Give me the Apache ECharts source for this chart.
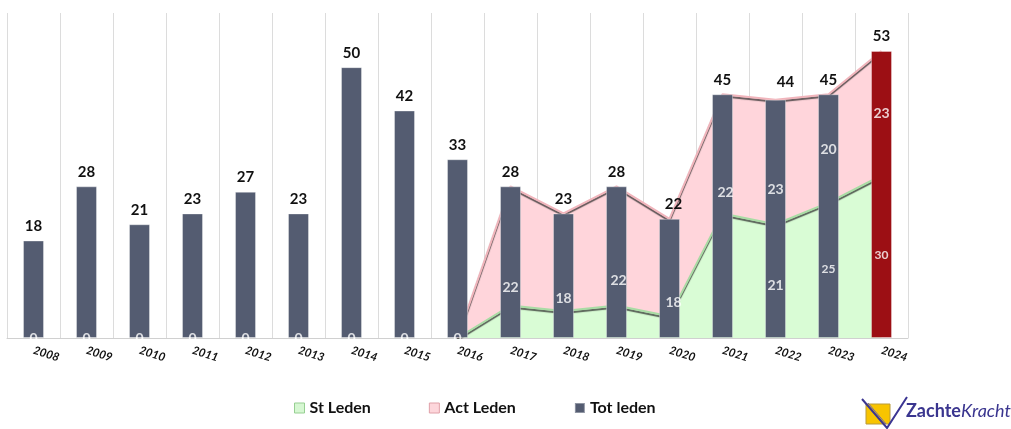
<!DOCTYPE html>
<html>
<head>
<meta charset="utf-8">
<script src="https://cdn.jsdelivr.net/npm/echarts@6/dist/echarts.min.js"></script>
<style>
  html, body { margin: 0; padding: 0; background: #fff; }
  #chart { width: 1011px; height: 429px; }
</style>
</head>
<body>
<div id="chart"></div>
<script>
(function () {
    'use strict';

    var YEARS = ['2008', '2009', '2010', '2011', '2012', '2013', '2014', '2015', '2016',
                 '2017', '2018', '2019', '2020', '2021', '2022', '2023', '2024'];
    var TOT_LEDEN = [18, 28, 21, 23, 27, 23, 50, 42, 33, 28, 23, 28, 22, 45, 44, 45, 53];
    var ST_LEDEN  = [0, 0, 0, 0, 0, 0, 0, 0, 0, 6, 5, 6, 4, 23, 21, 25, 30];
    var ACT_LEDEN = [0, 0, 0, 0, 0, 0, 0, 0, 0, 22, 18, 22, 18, 22, 23, 20, 23];
    var AREA_FROM = '2016';

    var FONT = 'Lato, "Open Sans", sans-serif';
    var BAR_COLOR = '#545c71';
    var LAST_COLOR = '#9c0f14';

    // Where Excel put the inner labels (pixel shift from the stacked point).
    var ACT_LABEL_SHIFT = {
        '2017': [0, 101], '2018': [0, 85], '2019': [2, 94], '2020': [4, 84],
        '2021': [3, 98], '2022': [0, 90], '2023': [0, 55], '2024': [0, 63]
    };
    var ST_LABEL_SHIFT = {
        '2022': [0, 61, 14], '2023': [0, 67, 12], '2024': [0, 80, 12]
    };

    var startIdx = YEARS.indexOf(AREA_FROM);
    var areaSt = ST_LEDEN.map(function (v, i) { return i < startIdx ? null : v; });
    var areaAct = ACT_LEDEN.map(function (v, i) { return i < startIdx ? null : v; });

    // label-only points
    var labelPts = [];
    YEARS.forEach(function (y, i) {
        if (i <= startIdx) {
            labelPts.push({ value: [i, 0], label: { formatter: String(ST_LEDEN[i]) } });
        }
        if (ST_LABEL_SHIFT[y]) {
            var s = ST_LABEL_SHIFT[y];
            labelPts.push({
                value: [i, ST_LEDEN[i]],
                label: { formatter: String(ST_LEDEN[i]), offset: [s[0], s[1]], fontSize: s[2] }
            });
        }
        if (ACT_LABEL_SHIFT[y]) {
            var a = ACT_LABEL_SHIFT[y];
            labelPts.push({
                value: [i, ST_LEDEN[i] + ACT_LEDEN[i]],
                label: { formatter: String(ACT_LEDEN[i]), offset: a }
            });
        }
    });

    var barData = TOT_LEDEN.map(function (v, i) {
        var item = { value: v };
        if (i === TOT_LEDEN.length - 1) item.itemStyle = { color: LAST_COLOR };
        if (YEARS[i] === '2022') item.label = { offset: [10, -3] };
        if (YEARS[i] === '2020') item.label = { offset: [4, 0] };
        return item;
    });

    var areaEdge = function (color) {
        return {
            color: color, width: 2,
            shadowColor: 'rgba(40,40,40,0.75)', shadowBlur: 1, shadowOffsetY: 2
        };
    };

    var chart = echarts.init(document.getElementById('chart'));
    chart.setOption({
        animation: false,
        textStyle: { fontFamily: FONT },
        grid: { left: 7, right: 103, top: 13, bottom: 91, containLabel: false },
        legend: {
            left: 289, top: 395,
            itemGap: 58, itemWidth: 10, itemHeight: 10,
            textStyle: { fontSize: 16, fontWeight: 'bold', color: '#111', fontFamily: FONT },
            data: [
                { name: 'St Leden', icon: 'rect',
                  itemStyle: { color: '#d6f7d2', borderColor: '#97cf92', borderWidth: 1 } },
                { name: 'Act Leden', icon: 'rect',
                  itemStyle: { color: '#fdd6db', borderColor: '#e0a0a8', borderWidth: 1 } },
                { name: 'Tot leden', icon: 'rect', itemStyle: { color: BAR_COLOR } }
            ]
        },
        xAxis: {
            type: 'category',
            data: YEARS,
            boundaryGap: true,
            axisLine: { lineStyle: { color: '#d0d0d0' } },
            axisTick: { show: false },
            axisLabel: {
                rotate: -17, margin: 12,
                fontSize: 11.5, fontWeight: 'bold', fontStyle: 'italic', color: '#111',
                fontFamily: FONT
            },
            splitLine: { show: true, lineStyle: { color: '#dcdcdc' } }
        },
        yAxis: {
            type: 'value', min: 0, max: 60,
            show: false, splitLine: { show: false }
        },
        series: [
            {
                name: 'St Leden', type: 'line', stack: 'leden', z: 1,
                data: areaSt, symbol: 'none',
                itemStyle: { color: '#d6f7d2' },
                lineStyle: areaEdge('#a9dca4'),
                areaStyle: { color: '#d9fcd5', opacity: 1 }
            },
            {
                name: 'Act Leden', type: 'line', stack: 'leden', z: 1,
                data: areaAct, symbol: 'none',
                itemStyle: { color: '#fdd6db' },
                lineStyle: areaEdge('#f1b5bc'),
                areaStyle: { color: '#ffd5db', opacity: 1 }
            },
            {
                name: 'Tot leden', type: 'bar', z: 5,
                data: barData, barWidth: 21,
                itemStyle: { color: BAR_COLOR, borderColor: 'rgba(255,255,255,0.35)', borderWidth: 1 },
                label: {
                    show: true, position: 'top', distance: 7,
                    fontSize: 15, fontWeight: 'bold', color: '#111', fontFamily: FONT
                }
            },
            {
                name: 'labels', type: 'scatter',
                data: labelPts, symbolSize: 0, silent: true, z: 10,
                label: {
                    show: true, position: 'inside',
                    fontSize: 14, fontWeight: 'bold', color: '#fff', fontFamily: FONT
                }
            }
        ],
        graphic: [
            { type: 'rect', shape: { x: 866, y: 404, width: 24, height: 20 },
              style: { fill: '#f8c400', stroke: '#b89a3a', lineWidth: 1 } },
            { type: 'polyline', shape: { points: [[862, 399], [887, 428], [907, 397]] },
              style: { stroke: '#3b3592', lineWidth: 2, fill: null } },
            { type: 'polyline', shape: { points: [[868, 403], [886, 424]] },
              style: { stroke: '#6a65b0', lineWidth: 1, fill: null } },
            { type: 'text', left: 906, top: 402,
              style: {
                  text: '{a|Zachte}{b|Kracht}',
                  rich: {
                      a: { fontSize: 18, fontWeight: 'bold', fill: '#3a358f', fontFamily: FONT },
                      b: { fontSize: 18, fontStyle: 'italic', fill: '#3a358f', fontFamily: FONT }
                  }
              } }
        ]
    });
})();
</script>
</body>
</html>
